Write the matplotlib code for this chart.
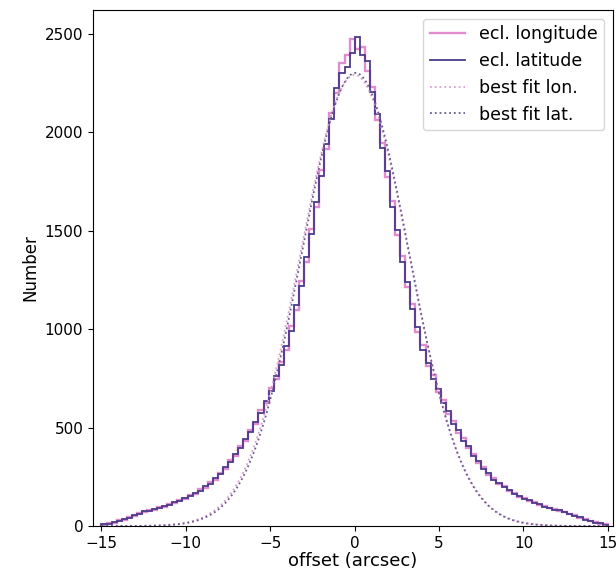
import numpy as np
import matplotlib
matplotlib.use("Agg")
import matplotlib.pyplot as plt

# histogram counts, 100 bins of 0.3 arcsec from -15 to 15
lon_counts = [
    6, 14, 17, 29, 33, 46, 51, 65, 69, 81,
    83, 96, 99, 113, 116, 133, 138, 157, 164, 186,
    195, 222, 236, 270, 290, 335, 356, 408, 432, 490,
    518, 590, 625, 702, 745, 835, 896, 1015, 1098, 1245,
    1340, 1510, 1620, 1805, 1915, 2095, 2200, 2350, 2390, 2470,
    2420, 2430, 2310, 2230, 2060, 1945, 1770, 1650, 1475, 1370,
    1215, 1125, 985, 918, 810, 765, 680, 640, 570, 532,
    474, 446, 394, 368, 322, 300, 260, 244, 214, 203,
    178, 170, 150, 144, 127, 122, 107, 104, 90, 87,
    76, 73, 60, 55, 42, 37, 25, 20, 12, 8,
]
lat_counts = [
    9, 11, 22, 26, 36, 43, 56, 59, 74, 77,
    87, 92, 103, 108, 121, 128, 143, 151, 169, 180,
    201, 216, 242, 262, 298, 325, 365, 397, 443, 478,
    528, 574, 636, 684, 760, 815, 912, 990, 1120, 1220,
    1365, 1480, 1645, 1775, 1940, 2065, 2225, 2300, 2330, 2400,
    2480, 2390, 2360, 2205, 2090, 1920, 1800, 1620, 1505, 1340,
    1240, 1100, 1010, 895, 830, 745, 695, 625, 585, 518,
    486, 434, 405, 357, 332, 290, 268, 235, 220, 196,
    184, 164, 155, 138, 132, 116, 111, 98, 94, 83,
    79, 69, 63, 51, 45, 33, 28, 18, 14, 6,
]
bin_lo, bin_hi, n_bins = -15.0, 15.0, 100

# gaussian fit parameters (amplitude, centre, sigma)
fit_lon = (2290, 0.0, 3.2)
fit_lat = (2300, 0.05, 3.16)

x_ticks = [-15, -10, -5, 0, 5, 10, 15]
y_ticks = [0, 500, 1000, 1500, 2000, 2500]


def gauss(x, amp, mu, sig):
    return amp * np.exp(-0.5 * ((x - mu) / sig) ** 2)


edges = np.linspace(bin_lo, bin_hi, n_bins + 1)
xx = np.linspace(bin_lo, bin_hi, 600)

fig = plt.figure(figsize=(6.16, 5.8), dpi=100)
ax = fig.add_axes([0.151, 0.093, 0.844, 0.890])

ax.stairs(lon_counts, edges, color="#e08ccf", lw=1.7, label="ecl. longitude")
ax.stairs(lat_counts, edges, color="#4b3a8c", lw=1.3, label="ecl. latitude")
ax.plot(xx, gauss(xx, *fit_lon), ":", color="#d8a0d0", lw=1.3, label="best fit lon.")
ax.plot(xx, gauss(xx, *fit_lat), ":", color="#6a5a90", lw=1.3, label="best fit lat.")

ax.set_xlim(-15.5, 15.3)
ax.set_ylim(0, 2620)
ax.set_xticks(x_ticks)
ax.set_yticks(y_ticks)
ax.tick_params(labelsize=11)
ax.set_xlabel("offset (arcsec)", fontsize=13, labelpad=1)
ax.set_ylabel("Number", fontsize=12)
ax.legend(loc="upper right", fontsize=12.5)

fig.savefig("out.png")
